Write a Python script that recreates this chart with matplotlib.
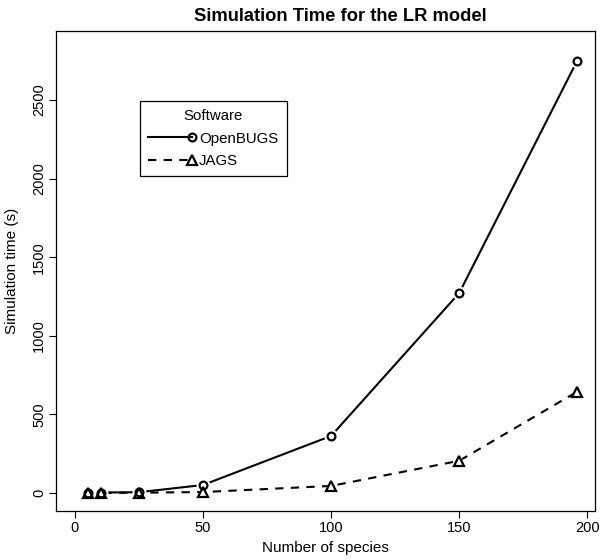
import matplotlib
matplotlib.use('Agg')
import matplotlib.pyplot as plt
from matplotlib.lines import Line2D
from matplotlib.legend_handler import HandlerLine2D

plt.rcParams['font.family'] = ['Liberation Sans', 'DejaVu Sans']

# values
species = [5, 10, 25, 50, 100, 150, 196]
openbugs = [2, 3, 5, 51, 363, 1272, 2748]
jags = [1, 1, 2, 6, 45, 205, 644]
series_labels = ['OpenBUGS', 'JAGS']
x_ticks = [0, 50, 100, 150, 200]
y_ticks = [0, 500, 1000, 1500, 2000, 2500]


class EndMarkerHandler(HandlerLine2D):
    # R-style legend key: line with the symbol sitting at its right end
    def create_artists(self, legend, orig_handle, xdescent, ydescent,
                       width, height, fontsize, trans):
        artists = super().create_artists(legend, orig_handle, xdescent, ydescent,
                                         width, height, fontsize, trans)
        for a in artists:
            n = len(a.get_xdata())
            a.set_markevery([n - 1])
        return artists


fig = plt.figure(figsize=(6, 5.6), dpi=100)
ax = fig.add_axes([56 / 600, (560 - 510.7) / 560, 539 / 600, 480.1 / 560])

lw = 1.5
ms_c, ms_t = 5.6, 7.0
ax.plot(species, openbugs, color='black', lw=lw, ls='-', zorder=2)
ax.plot(species, jags, color='black', lw=lw, ls=(0, (4, 3.5)), zorder=2)

# white halo under symbols to mimic R's type="b" gaps
ax.plot(species, openbugs, ls='none', marker='o', ms=10, mfc='white', mec='none', zorder=3)
ax.plot(species, jags, ls='none', marker='^', ms=11, mfc='white', mec='none', zorder=3)
ax.plot(species, openbugs, ls='none', marker='o', ms=ms_c, mfc='none', mec='black', mew=1.6, zorder=4)
ax.plot(species, jags, ls='none', marker='^', ms=ms_t, mfc='none', mec='black', mew=1.6, zorder=4)

ax.set_xlim(-7.4, 203)
ax.set_ylim(-112.6, 2941)
ax.set_xticks(x_ticks)
ax.set_yticks(y_ticks)
ax.tick_params(direction='out', length=5, width=0.8, labelsize=10.5, colors='black')
ax.tick_params(axis='x', pad=2.5)
ax.tick_params(axis='y', pad=2)
plt.setp(ax.get_yticklabels(), rotation=90, va='center')
for s in ax.spines.values():
    s.set_linewidth(0.9)
    s.set_color('black')

ax.set_xlabel('Number of species', fontsize=11)
ax.xaxis.set_label_coords(0.5, (510.7 - 541) / 480.1)
ax.set_ylabel('Simulation time (s)', fontsize=11)
ax.yaxis.set_label_coords((19 - 56) / 539, 0.5)
ax.set_title('Simulation Time for the LR model', fontsize=13.2, fontweight='bold',
             pad=7, x=(340 - 56) / 539)

h1 = Line2D([], [], color='black', lw=lw, ls='-', marker='o', ms=ms_c, mfc='none', mec='black', mew=1.6)
h2 = Line2D([], [], color='black', lw=lw, ls=(0, (4, 3.5)), marker='^', ms=ms_t, mfc='none', mec='black', mew=1.6)
leg = ax.legend([h1, h2], series_labels, title='Software', loc='upper left',
                bbox_to_anchor=((140 - 56) / 539, (510.7 - 101) / 480.1), borderaxespad=0,
                fontsize=10.8, title_fontsize=10.8,
                frameon=True, fancybox=False, edgecolor='black', framealpha=1,
                handlelength=2.9, handletextpad=0.5, borderpad=0.55, labelspacing=0.55,
                numpoints=1, handler_map={Line2D: EndMarkerHandler()})
leg.get_frame().set_linewidth(0.9)

fig.savefig('out.png', dpi=100)
